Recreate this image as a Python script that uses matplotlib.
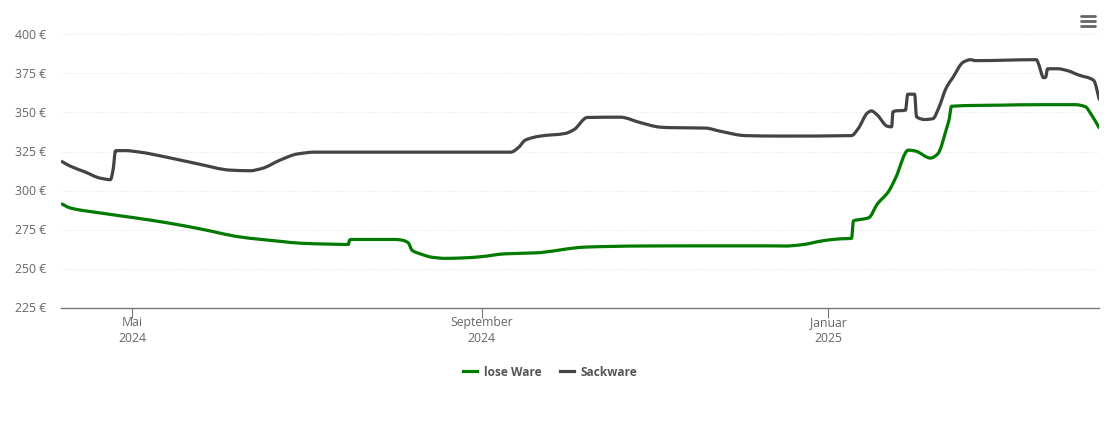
import matplotlib
matplotlib.use("Agg")
import matplotlib.pyplot as plt
from matplotlib.lines import Line2D
from matplotlib.path import Path
from matplotlib.patches import PathPatch
from matplotlib.ticker import FuncFormatter
from matplotlib.transforms import ScaledTranslation

plt.rcParams['font.family'] = ['Open Sans', 'DejaVu Sans']

# days since 2024-05-01
green_days = [-25.0,-21.8,-11.3,0,11.6,23.9,38.0,52.1,59.2,69.7,76.1,76.6,77.5,92.6,95.4,97.2,98.6,101.4,105.6,
              110.2,115.5,122.5,131.3,141.9,159.5,178.9,200,224.6,229.9,235.2,244,249.3,253.2,253.9,256.3,259.2,
              262.3,266.2,268.7,273.2,275.7,281,283.5,287,287.5,288.4,305.6,319.7,332,335.6,337.3,340.5]
green_vals = [291.7,288.9,285.7,282.8,279.6,275.5,270.3,267.5,266.3,265.7,265.5,268.4,268.7,268.7,268.1,266.5,261.7,259.5,257.3,
              256.6,256.8,257.6,259.5,260.1,263.8,264.5,264.6,264.6,264.5,265.2,268.1,269.1,269.4,280.6,281.5,282.5,
              291.4,299.3,308,325.9,325.3,320.8,323.4,341.9,345,354,354.7,355,355,353.6,349.5,339.8]
sack_days = [-25,-21.8,-16.5,-11.3,-7.6,-6.7,-5.8,-2.5,2.8,11.6,23.9,34.5,41.5,45.8,52.1,58.1,64.4,133.3,135.9,138.4,
             143.7,152.5,155.6,160.2,171.8,178.9,185.9,189.4,201.8,207,215.8,228.2,253.2,255.6,258.8,260.2,262.3,
             265.8,267.3,267.8,268.7,272.2,273,275.4,276.1,279.2,281.9,283.8,286.6,288.7,292.6,295.1,296.8,318.3,
             319,320.8,321.5,322.2,325.7,329.2,333.1,338.4,340.5]
sack_vals = [318.9,315.7,311.9,308,307,313,325.5,325.6,324.6,321.6,316.8,313.1,312.7,314.2,319.5,323.4,324.6,324.6,327.4,332.3,
             334.9,336.6,339.1,346.8,347,343.5,340.6,340.3,340,338,335.2,334.9,335.2,339.8,349.7,351,348.3,
             341.2,340.8,350.4,351,351.5,361.7,361.7,347.2,345.5,346.1,352.5,366,371.9,382.3,383.8,383.2,383.8,
             381.2,372.3,372.5,378,378,376.8,374,370.6,357.8]
series_names = ['lose Ware', 'Sackware']
series_colors = ['#007a00', '#434348']
y_ticks = [225,250,275,300,325,350,375,400]
x_ticks = [0,123,245]
x_labels = ['Mai\n2024','September\n2024','Januar\n2025']


def spline_path(xs, ys):
    """Smooth monotone curve through the read points (as a Bezier path)."""
    n = len(xs)
    h = [xs[i+1]-xs[i] for i in range(n-1)]
    s = [(ys[i+1]-ys[i])/h[i] for i in range(n-1)]
    m = [s[0]] + [0.0]*(n-2) + [s[-1]]
    for i in range(1, n-1):
        if s[i-1]*s[i] > 0:
            w1, w2 = 2*h[i]+h[i-1], h[i]+2*h[i-1]
            m[i] = (w1+w2)/(w1/s[i-1]+w2/s[i])
    verts, codes = [(xs[0], ys[0])], [Path.MOVETO]
    for i in range(n-1):
        d = h[i]/3
        verts += [(xs[i]+d, ys[i]+m[i]*d), (xs[i+1]-d, ys[i+1]-m[i+1]*d), (xs[i+1], ys[i+1])]
        codes += [Path.CURVE4]*3
    return Path(verts, codes)


W, H = 1110, 422
fig = plt.figure(figsize=(W/100, H/100), dpi=100, facecolor='white')
ax = fig.add_axes([61/W, 1-307.7/H, (1099-61)/W, (307.7-34.4)/H])
for xs, ys, c, name in [(green_days, green_vals, series_colors[0], series_names[0]),
                        (sack_days, sack_vals, series_colors[1], series_names[1])]:
    ax.add_patch(PathPatch(spline_path(xs, ys), fc='none', ec=c, lw=2.3, joinstyle='round', zorder=3))
    ax.plot([], [], color=c, lw=2.3, label=name)

ax.set_xlim(-25, 340.3)
ax.set_ylim(225, 400)
for s in ['top','left','right']:
    ax.spines[s].set_visible(False)
ax.spines['bottom'].set_color('#777777')
ax.spines['bottom'].set_linewidth(1.0)
ax.set_yticks(y_ticks)
ax.yaxis.set_major_formatter(FuncFormatter(lambda v, _: f'{int(v)} €'))
ax.set_xticks(x_ticks)
ax.set_xticklabels(x_labels, linespacing=1.23)
ax.tick_params(axis='y', length=0, pad=10.5, labelsize=8.8, labelcolor='#666666')
ax.tick_params(axis='x', length=7, width=0.8, color='#777777', pad=-0.7, labelsize=8.8, labelcolor='#666666')
up = ScaledTranslation(0, 0.6/100, fig.dpi_scale_trans)
for lab in ax.get_yticklabels():
    lab.set_transform(lab.get_transform() + up)
ax.grid(axis='y', color='#e6e6e6', lw=0.7, ls=(0,(1,1.5)), zorder=0)
ax.set_axisbelow(True)

leg = fig.legend(loc='center', bbox_to_anchor=(550.5/W, 1-372/H), ncol=2, frameon=False,
                 prop={'size':8.6,'weight':'bold'}, labelcolor='#555555',
                 handlelength=1.15, handletextpad=0.55, columnspacing=1.6, borderpad=0)

for yy in (16, 21, 26):
    fig.add_artist(Line2D([1081/W, 1095/W], [1-yy/H, 1-yy/H], transform=fig.transFigure,
                          color='#666666', lw=2.0, solid_capstyle='round'))

fig.savefig('out.png', dpi=100, facecolor='white')
